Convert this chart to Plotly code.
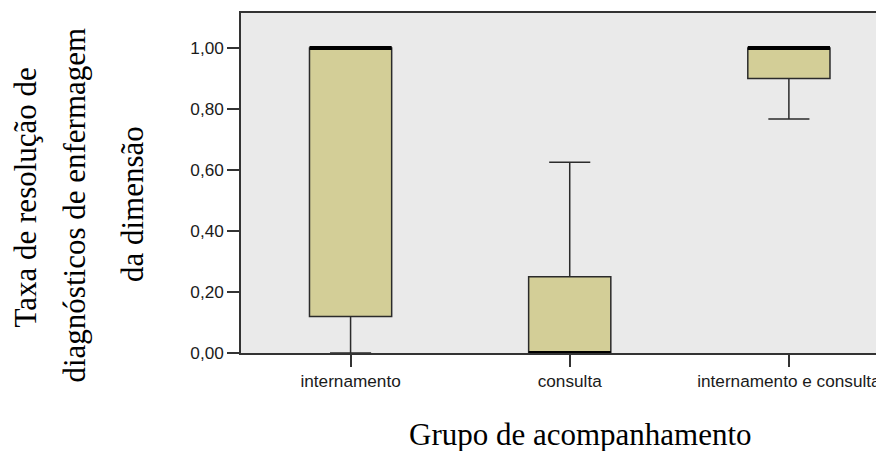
import plotly.graph_objects as go

# ---- data ----
categories = ["internamento", "consulta", "internamento e consulta"]
q1_vals = [0.12, 0.00, 0.90]
median_vals = [1.00, 0.00, 1.00]
q3_vals = [1.00, 0.25, 1.00]
lower_fence = [0.00, 0.00, 0.767]
upper_fence = [1.00, 0.625, 1.00]
y_tick_vals = [0.0, 0.2, 0.4, 0.6, 0.8, 1.0]
y_tick_text = ["0,00", "0,20", "0,40", "0,60", "0,80", "1,00"]

y_title_lines = ["Taxa de resolução de", "diagnósticos de enfermagem", "da dimensão"]
x_title = "Grupo de acompanhamento"

# ---- style ----
BOX_W = 0.375
FILL = "#D3CE97"
EDGE = "#2b2b2b"
AXIS = "#333333"
TICK_FONT = dict(family="Liberation Sans, Arial, sans-serif", size=17.2, color="#1a1a1a")
TITLE_FONT = dict(family="Liberation Serif, Times New Roman, serif", size=31, color="#000000")

OFF = 8  # page body margin
W, H = 884 - OFF, 451 - OFF
L = 241 - OFF
T = 13 - OFF
B = H - (353.5 - OFF)
R = 0

xpos = list(range(len(categories)))

fig = go.Figure()
fig.add_trace(go.Box(
    x=xpos, q1=q1_vals, median=median_vals, q3=q3_vals,
    lowerfence=lower_fence, upperfence=upper_fence,
    width=BOX_W, whiskerwidth=0.5,
    fillcolor=FILL, line=dict(color=EDGE, width=1.5),
    boxpoints=False, showlegend=False, hoverinfo="skip",
))

# thick median lines
mx, my = [], []
for p, m in zip(xpos, median_vals):
    mx += [p - BOX_W / 2, p + BOX_W / 2, None]
    my += [m, m, None]
fig.add_trace(go.Scatter(x=mx, y=my, mode="lines",
                         line=dict(color="#000000", width=4),
                         showlegend=False, hoverinfo="skip"))

fig.update_xaxes(
    range=[-0.5, 2.434], tickmode="array", tickvals=xpos, ticktext=categories,
    showgrid=False, zeroline=False, showline=True, linecolor=AXIS, linewidth=1.5,
    mirror=True, ticks="outside", ticklen=12, tickwidth=1.5, tickcolor=AXIS,
    tickfont=TICK_FONT,
)
fig.update_yaxes(
    range=[0, 1.1146], tickmode="array", tickvals=y_tick_vals, ticktext=y_tick_text,
    showgrid=False, zeroline=False, showline=True, linecolor=AXIS, linewidth=1.5,
    ticks="outside", ticklen=12, tickwidth=1.5, tickcolor=AXIS,
    tickfont=TICK_FONT,
)

# page-pixel positions (reference coordinates)
plot_left_page = 241
plot_bottom_page = 353.5
line_x = [25, 74, 132.5]        # pixel centres of each rotated line
line_y = [198, 206, 205]        # pixel vertical centres
for txt, px, py in zip(y_title_lines, line_x, line_y):
    fig.add_annotation(text=txt, xref="paper", yref="paper", x=0, y=0,
                       xanchor="center", yanchor="middle",
                       xshift=px - plot_left_page, yshift=plot_bottom_page - py,
                       textangle=-90, showarrow=False, font=TITLE_FONT)

fig.add_annotation(text=x_title, xref="paper", yref="paper", x=0, y=0,
                   xanchor="center", yanchor="top",
                   xshift=580 - plot_left_page, yshift=-(415 - plot_bottom_page),
                   showarrow=False, font=TITLE_FONT)

fig.update_layout(
    width=W, height=H, margin=dict(l=L, r=R, t=T, b=B, pad=0),
    plot_bgcolor="#EAEAEA", paper_bgcolor="#FFFFFF",
)

fig.write_html("out.html")
